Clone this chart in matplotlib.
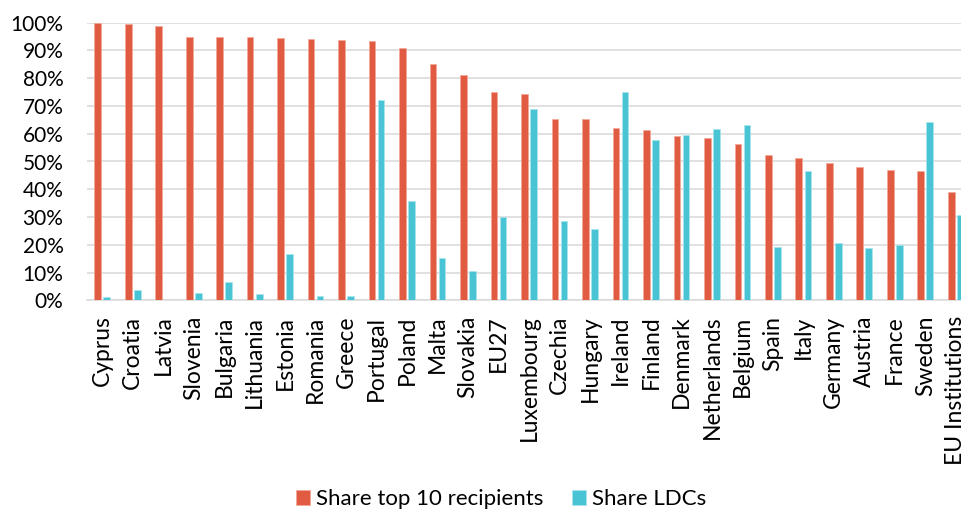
import matplotlib
matplotlib.use("Agg")
import matplotlib.pyplot as plt
import numpy as np
from matplotlib.ticker import FuncFormatter, MultipleLocator

plt.rcParams['font.family'] = ['Lato', 'DejaVu Sans']

countries = ["Cyprus", "Croatia", "Latvia", "Slovenia", "Bulgaria", "Lithuania",
             "Estonia", "Romania", "Greece", "Portugal", "Poland", "Malta",
             "Slovakia", "EU27", "Luxembourg", "Czechia", "Hungary", "Ireland",
             "Finland", "Denmark", "Netherlands", "Belgium", "Spain", "Italy",
             "Germany", "Austria", "France", "Sweden", "EU Institutions"]

share_top10 = [100.0, 99.6, 98.7, 94.8, 94.7, 94.7, 94.5, 94.0, 93.8, 93.5,
               90.8, 85.0, 81.3, 75.0, 74.2, 65.3, 65.2, 62.1, 61.2, 59.3,
               58.5, 56.3, 52.3, 51.3, 49.5, 48.1, 46.9, 46.7, 38.9]

share_ldcs = [1.1, 3.7, 0.0, 2.5, 6.5, 2.4, 16.7, 1.5, 1.4, 72.1,
              35.8, 15.4, 10.4, 29.9, 69.0, 28.7, 25.7, 75.1, 57.7, 59.5,
              61.8, 63.0, 19.3, 46.6, 20.6, 18.7, 19.9, 64.2, 30.8]

series_labels = ["Share top 10 recipients", "Share LDCs"]
red = "#E05B41"
blue = "#48C4D5"

fig = plt.figure(figsize=(9.61, 5.11), dpi=100)
ax = fig.add_axes([87 / 961, (511 - 300.3) / 511, 884 / 961, 277.6 / 511])

x = np.arange(len(countries))
w = 0.22
off = 0.148
ax.bar(x - off, share_top10, width=w, color=red, edgecolor="#F2A898",
       linewidth=0.5, label=series_labels[0], zorder=3)
ax.bar(x + off, share_ldcs, width=w, color=blue, edgecolor="#A9E4EC",
       linewidth=0.5, label=series_labels[1], zorder=3)

ax.set_xlim(-0.5, len(countries) - 0.5)
ax.set_ylim(0, 100)
ax.yaxis.set_major_locator(MultipleLocator(10))
ax.yaxis.set_major_formatter(FuncFormatter(lambda v, p: f"{v:.0f}%"))
ax.grid(axis="y", color="#D9D9D9", linewidth=1.1, zorder=0)
ax.set_axisbelow(True)

for s in ["top", "right", "left"]:
    ax.spines[s].set_visible(False)
ax.spines["bottom"].set_color("#D9D9D9")
ax.spines["bottom"].set_linewidth(1.1)

ax.set_xticks(x)
ax.set_xticklabels(countries, rotation=90, fontsize=16.5, color="#000000")
ax.tick_params(axis="x", length=0, pad=11)
ax.tick_params(axis="y", length=0, pad=17, labelsize=15)

fig.legend(loc="center", bbox_to_anchor=(501 / 961, 12 / 511), ncol=2,
           frameon=False, fontsize=16, handlelength=0.65, handleheight=0.65,
           handletextpad=0.25, columnspacing=1.3)

fig.savefig("out.png", dpi=100)
